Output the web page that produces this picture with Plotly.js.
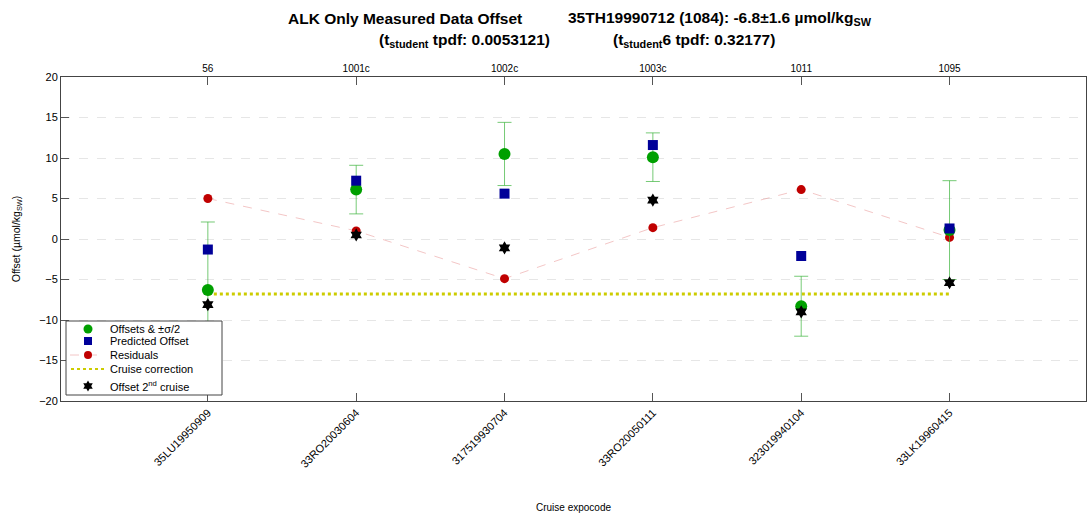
<!DOCTYPE html>
<html><head><meta charset="utf-8">
<script src="https://cdn.plot.ly/plotly-3.0.1.min.js"></script>
<style>body{margin:0;padding:0;background:#fff}#plot{width:1087px;height:517px}</style>
</head><body><div id="plot"></div>
<script>
const cruises = ["35LU19950909","33RO20030604","317519930704","33RO20050111","323019940104","33LK19960415"];
const topLabels = ["56","1001c","1002c","1003c","1011","1095"];
const xpos = [1,2,3,4,5,6];
const offsets = [-6.3, 6.1, 10.5, 10.1, -8.3, 1.1];
const offsetErr = [8.4, 3.0, 3.9, 3.0, 3.7, 6.1];
const predicted = [-1.3, 7.2, 5.6, 11.6, -2.1, 1.3];
const residuals = [5.0, 1.0, -4.9, 1.4, 6.1, 0.2];
const secondCruise = [-8.1, 0.5, -1.1, 4.8, -9.0, -5.4];
const correction = -6.8;
const titleParts = ['ALK Only Measured Data Offset', '35TH19990712 (1084): -6.8±1.6 µmol/kg<sub>SW</sub>',
                    '(t<sub>student</sub> tpdf: 0.0053121)', '(t<sub>student</sub>6 tpdf: 0.32177)'];
const legendNames = ['Offsets & ±σ/2', 'Predicted Offset', 'Residuals', 'Cruise correction', 'Offset 2<sup>nd</sup> cruise'];

const font = 'Liberation Sans, Arial, sans-serif';
const C = {green:'#00a000', blue:'#000099', red:'#c00000', yellow:'#cccc00', resLine:'rgba(235,160,160,0.6)', err:'rgba(60,180,60,0.7)'};
const traces = [
  {x: [xpos[0], xpos[xpos.length-1]], y: [correction, correction], type:'scatter', mode:'lines', name:legendNames[3],
   line:{color:C.yellow, width:3, dash:'dot'}},
  {x: xpos, y: residuals, type:'scatter', mode:'lines+markers', name:legendNames[2],
   line:{color:C.resLine, width:1, dash:'dash'}, marker:{color:C.red, size:9}},
  {x: xpos, y: offsets, type:'scatter', mode:'markers', name:legendNames[0],
   marker:{color:C.green, size:12},
   error_y:{type:'data', array: offsetErr, visible:true, color:C.err, thickness:1, width:7}},
  {x: xpos, y: predicted, type:'scatter', mode:'markers', name:legendNames[1],
   marker:{color:C.blue, size:10, symbol:'square'}},
  {x: xpos, y: secondCruise, type:'scatter', mode:'markers', name:legendNames[4],
   marker:{color:'#000000', size:10, symbol:'hexagram'}},
  {x: xpos, y: offsets, type:'scatter', mode:'markers', xaxis:'x2', showlegend:false, hoverinfo:'skip',
   marker:{opacity:0}}
];

// pixel -> paper helpers (plot area 61..1086 x 77..401)
const PX = x => (x - 61) / 1025;
const PY = y => (401 - y) / 324;

// custom compact legend (layout decoration)
const lgRows = [329, 341, 355, 369, 386];
const lgSymX = 88, lgTextX = 108;
const shapes = [
  {type:'rect', xref:'paper', yref:'paper', x0:PX(66), x1:PX(222), y0:PY(395), y1:PY(321), fillcolor:'#fff', line:{color:'#444', width:1}, layer:'above'},
  {type:'circle', xref:'paper', yref:'paper', xsizemode:'pixel', ysizemode:'pixel', xanchor:PX(lgSymX), yanchor:PY(lgRows[0]), x0:-4.5, x1:4.5, y0:-4.5, y1:4.5, fillcolor:C.green, line:{width:0}, layer:'above'},
  {type:'rect', xref:'paper', yref:'paper', xsizemode:'pixel', ysizemode:'pixel', xanchor:PX(lgSymX), yanchor:PY(lgRows[1]), x0:-4, x1:4, y0:-4, y1:4, fillcolor:C.blue, line:{width:0}, layer:'above'},
  {type:'line', xref:'paper', yref:'paper', x0:PX(70), x1:PX(104), y0:PY(lgRows[2]), y1:PY(lgRows[2]), line:{color:C.resLine, width:1, dash:'dash'}, layer:'above'},
  {type:'circle', xref:'paper', yref:'paper', xsizemode:'pixel', ysizemode:'pixel', xanchor:PX(lgSymX), yanchor:PY(lgRows[2]), x0:-4, x1:4, y0:-4, y1:4, fillcolor:C.red, line:{width:0}, layer:'above'},
  {type:'line', xref:'paper', yref:'paper', x0:PX(71), x1:PX(105), y0:PY(lgRows[3]), y1:PY(lgRows[3]), line:{color:C.yellow, width:2, dash:'dot'}, layer:'above'},
  {type:'path', xref:'paper', yref:'paper', xsizemode:'pixel', ysizemode:'pixel', xanchor:PX(lgSymX), yanchor:PY(lgRows[4]),
   path:'M0,5.5 L1.6,2.75 L4.76,2.75 L3.2,0 L4.76,-2.75 L1.6,-2.75 L0,-5.5 L-1.6,-2.75 L-4.76,-2.75 L-3.2,0 L-4.76,2.75 L-1.6,2.75 Z',
   fillcolor:'#000', line:{width:0}, layer:'above'}
];
const annotations = [
  {text:'<b>'+titleParts[0]+'</b>', x:PX(286), y:PY(18)},
  {text:'<b>'+titleParts[1]+'</b>', x:PX(566), y:PY(18)},
  {text:'<b>'+titleParts[2]+'</b>', x:PX(377), y:PY(41)},
  {text:'<b>'+titleParts[3]+'</b>', x:PX(611), y:PY(41)}
].map(a => Object.assign(a, {xref:'paper', yref:'paper', xanchor:'left', yanchor:'middle', showarrow:false, font:{family:font, size:15.5, color:'#000'}}))
.concat(legendNames.map((n, i) => ({text:n, xref:'paper', yref:'paper', x:PX(lgTextX), y:PY(lgRows[i]), xanchor:'left', yanchor:'middle', showarrow:false, font:{family:font, size:11, color:'#000'}})));

const layout = {
  width:1087, height:517,
  margin:{l:61, r:1, t:77, b:116},
  paper_bgcolor:'#fff', plot_bgcolor:'#fff',
  font:{family:font, size:10, color:'#000'},
  showlegend:false,
  shapes: shapes,
  annotations: annotations,
  xaxis:{range:[0.01, 6.92], tickmode:'array', tickvals:xpos, ticktext:cruises, tickangle:-45,
         ticks:'inside', ticklen:8, tickcolor:'#555', showgrid:false, zeroline:false,
         showline:true, linecolor:'#444', linewidth:1, mirror:false,
         tickfont:{family:font, size:11},
         title:{text:'Cruise expocode', font:{family:font, size:10}, standoff:35}},
  xaxis2:{range:[0.01, 6.92], overlaying:'x', side:'top', tickmode:'array', tickvals:xpos, ticktext:topLabels,
          ticks:'inside', ticklen:8, tickcolor:'#555', showgrid:false, zeroline:false,
          showline:true, linecolor:'#444', linewidth:1, tickfont:{family:font, size:10}},
  yaxis:{range:[-20, 20], dtick:5, ticks:'inside', ticklen:8, tickcolor:'#555',
         showgrid:true, gridcolor:'#e6e6e6', griddash:'dash', zeroline:false,
         showline:true, linecolor:'#444', linewidth:1, mirror:true,
         tickfont:{family:font, size:11},
         title:{text:'Offset (µmol/kg<sub>SW</sub>)', font:{family:font, size:10.5}, standoff:16}}
};
Plotly.newPlot('plot', traces, layout, {displayModeBar:false, staticPlot:true});
</script></body></html>
